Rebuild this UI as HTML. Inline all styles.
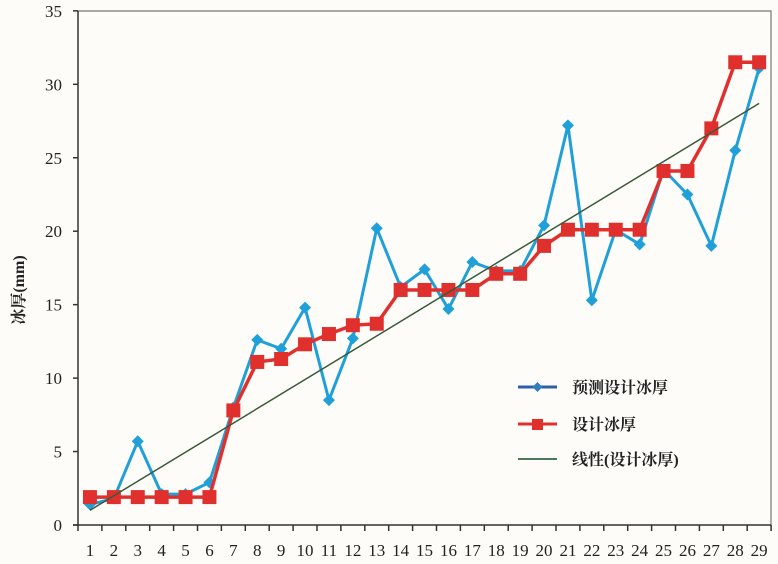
<!DOCTYPE html>
<html><head><meta charset="utf-8"><style>
html,body{margin:0;padding:0;background:#fdfcf9;}
svg{display:block;font-family:"Liberation Serif","Noto Serif CJK SC",serif;}
</style></head><body>
<svg id="c" width="778" height="564" viewBox="0 0 778 564" xmlns="http://www.w3.org/2000/svg">
<rect x="0" y="0" width="778" height="564" fill="#fdfcf9"/>
<polyline points="78,11 771,11 771,525" fill="none" stroke="#777" stroke-width="1.2"/>
<line x1="78" y1="11" x2="78" y2="525" stroke="#333" stroke-width="1.5"/>
<line x1="73" y1="525" x2="771" y2="525" stroke="#333" stroke-width="1.5"/>
<g id="ax" font-size="17" fill="#222"></g>
<text transform="translate(24,290) rotate(-90)" text-anchor="middle" font-size="16" font-weight="bold" fill="#222">冰厚(mm)</text>
<line id="trend" stroke="#3a5a3a" stroke-width="1.5"/>
<g id="series"></g>
<g font-size="16" font-weight="bold" fill="#222">
<line x1="518" y1="387" x2="557" y2="387" stroke="#2f5fa8" stroke-width="3"/>
<path d="M537.5,382 L542.5,387 L537.5,392 L532.5,387Z" fill="#2f7fc0"/>
<text x="572" y="393">预测设计冰厚</text>
<line x1="518" y1="424" x2="557" y2="424" stroke="#e0302e" stroke-width="3"/>
<rect x="532" y="419" width="11" height="11" fill="#e0302e"/>
<text x="572" y="430">设计冰厚</text>
<line x1="518" y1="459" x2="557" y2="459" stroke="#4a7a5a" stroke-width="2"/>
<text x="572" y="465">线性(设计冰厚)</text>
</g>
</svg>
<script>
var NS="http://www.w3.org/2000/svg";
function X(i){return 66.05+23.9*i;}
function Y(v){return 525-14.69*v;}
function el(t,a,p){var e=document.createElementNS(NS,t);for(var k in a)e.setAttribute(k,a[k]);(p||document.getElementById('series')).appendChild(e);return e;}
var ax=document.getElementById('ax');
for(var v=0;v<=35;v+=5){el('text',{x:62,y:Y(v)+6,'text-anchor':'end'},ax).textContent=v;el('line',{x1:73,y1:Y(v),x2:78,y2:Y(v),stroke:'#333','stroke-width':1.5},ax);}
for(var i=1;i<=29;i++){el('text',{x:X(i),y:556,'text-anchor':'middle'},ax).textContent=i;var tx=78+23.9*i;el('line',{x1:tx,y1:525,x2:tx,y2:531,stroke:'#333','stroke-width':1.5},ax);}
el('line',{x1:78,y1:525,x2:78,y2:531,stroke:'#333','stroke-width':1.5},ax);
var t=document.getElementById('trend');t.setAttribute('x1',X(1));t.setAttribute('y1',Y(1.0));t.setAttribute('x2',X(29));t.setAttribute('y2',Y(28.7));
var b=[1.4,1.8,5.7,2.1,2.1,2.9,8,12.6,12,14.8,8.5,12.7,20.2,16.2,17.4,14.7,17.9,17.3,17.3,20.4,27.2,15.3,20.1,19.1,24.2,22.5,19,25.5,31.1];
var r=[1.9,1.9,1.9,1.9,1.9,1.9,7.8,11.1,11.3,12.3,13,13.6,13.7,16,16,16,16,17.1,17.1,19,20.1,20.1,20.1,20.1,24.1,24.1,27,31.5,31.5];
function pts(d){return d.map(function(v,i){return X(i+1)+','+Y(v);}).join(' ');}
var s=document.getElementById('series');
s.insertBefore(t,null);
el('polyline',{points:pts(b),fill:'none',stroke:'#1fa0d8','stroke-width':3,'stroke-linejoin':'round'});
b.forEach(function(v,i){var x=X(i+1),y=Y(v);el('path',{d:'M'+x+','+(y-6)+' L'+(x+6)+','+y+' L'+x+','+(y+6)+' L'+(x-6)+','+y+'Z',fill:'#1fa0d8'});});
el('polyline',{points:pts(r),fill:'none',stroke:'#e0302e','stroke-width':3.5,'stroke-linejoin':'round'});
r.forEach(function(v,i){el('rect',{x:X(i+1)-7,y:Y(v)-7,width:14,height:14,fill:'#e0302e'});});
s.appendChild(t);
</script>
</body></html>
